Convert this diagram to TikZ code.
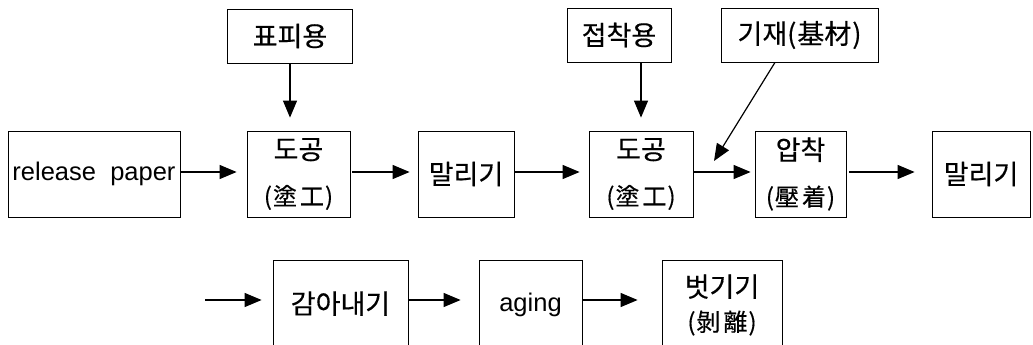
\documentclass[tikz,border=0pt]{standalone}
\usepackage{fontspec}
\setmainfont{Liberation Sans}
\newfontfamily\kr[FakeBold=0.4]{Noto Sans CJK KR}
\usetikzlibrary{arrows.meta}
\newcommand{\hj}[2]{\fontsize{24}{27}\selectfont(\kern1pt#1\kern3pt#2\kern1pt)}
\begin{document}
\begin{tikzpicture}[x=1pt,y=-1pt,
  box/.style={draw, line width=0.8pt, inner sep=0pt, align=center, font=\kr\fontsize{27}{31}\selectfont},
  mid/.style={box, minimum height=86pt},
  top/.style={box, minimum height=54pt},
  bot/.style={box, minimum height=90pt},
  lat/.style={font=\fontsize{25.5}{30}\selectfont},
  arr/.style={line width=1.2pt, -{Triangle[length=17pt,width=14pt]}},
]
\useasboundingbox (0,0) rectangle (1033,345);
\clip (0,0) rectangle (1033,345);
% top row
\node[top, minimum width=125pt] (pp) at (290,36) {표피용};
\node[top, minimum width=104pt] (jc) at (619,35) {접착용};
\node[top, minimum width=157pt] (gj) at (799.5,35) {기재(\kern1pt基材\kern1pt)};
% middle row
\node[mid, minimum width=172pt, lat] (rp) at (94,174) {release\ \ paper};
\node[mid, minimum width=103pt] (d1) at (298.5,174) {도공\\[15pt]\hj{塗}{工}};
\node[mid, minimum width=96pt] (m1) at (466,174) {말리기};
\node[mid, minimum width=104pt] (d2) at (641,174) {도공\\[15pt]\hj{塗}{工}};
\node[mid, minimum width=91pt] (ap) at (800.5,174) {압착\\[15pt]\hj{壓}{着}};
\node[mid, minimum width=98pt] (m2) at (981,174) {말리기};
% bottom row
\node[bot, minimum width=135pt] (ga) at (340.5,305) {\raisebox{5pt}{감아내기}};
\node[bot, minimum width=103pt, lat] (ag) at (530.5,305) {\raisebox{5pt}{aging}};
\node[bot, minimum width=120pt] (bg) at (722,305) {벗기기\\[3pt]\hj{剝}{離}};
\coordinate (start) at (205,300);
\coordinate (gjtip) at (714,161);
% connectors
\draw[arr, shorten >=10pt] (rp.east |- 0,172) -- (d1.west |- 0,172);
\draw[arr, shorten >=8pt, shorten <=2pt] (d1.east |- 0,172) -- (m1.west |- 0,172);
\draw[arr, shorten >=9pt] (m1.east |- 0,172) -- (d2.west |- 0,172);
\draw[arr, shorten >=4pt] (d2.east |- 0,172) -- (ap.west |- 0,172);
\draw[arr, shorten >=17pt, shorten <=3pt] (ap.east |- 0,172) -- (m2.west |- 0,172);
\draw[arr, shorten >=13pt] (pp.south) -- (pp.south |- d1.north);
\draw[arr, shorten >=13pt] (jc.south -| d2.north) -- (d2.north);
\draw[arr] (gj.south -| 775,0) -- (gjtip);
\draw[arr, shorten >=11pt] (start) -- (ga.west |- start);
\draw[arr, shorten >=18pt] (ga.east |- start) -- (ag.west |- start);
\draw[arr, shorten >=24pt] (ag.east |- start) -- (bg.west |- start);
\end{tikzpicture}
\end{document}
